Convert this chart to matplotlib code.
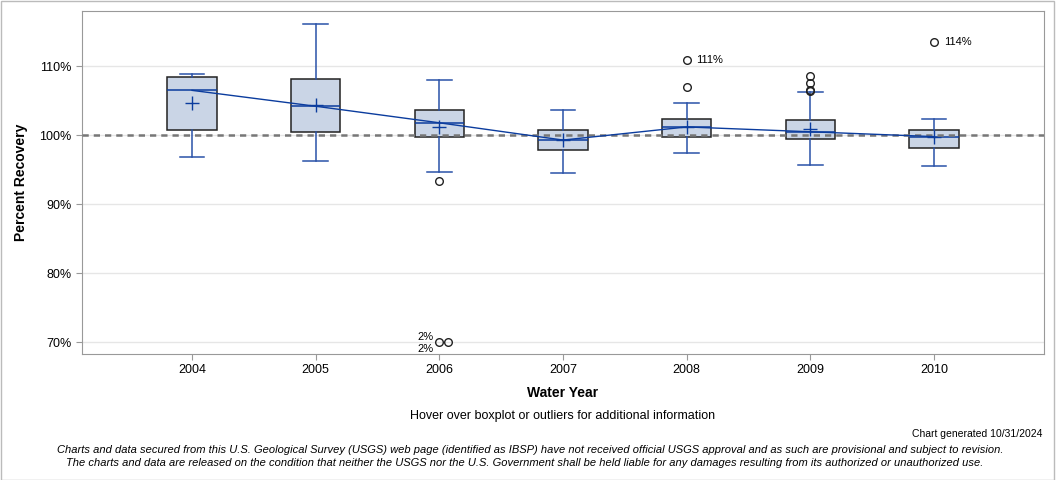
import numpy as np
import matplotlib.pyplot as plt
import matplotlib as mpl

mpl.rcParams['font.family'] = ['Liberation Sans', 'DejaVu Sans']

# values (percent recovery)
years = [2004, 2005, 2006, 2007, 2008, 2009, 2010]
q1 = [100.7, 100.4, 99.7, 97.9, 99.8, 99.5, 98.2]
q3 = [108.5, 108.2, 103.6, 100.8, 102.4, 102.2, 100.7]
med = [106.5, 104.2, 101.8, 99.3, 101.2, 100.5, 99.8]
mean = [104.6, 104.4, 101.2, 99.3, 101.2, 100.9, 99.7]
wlo = [96.8, 96.3, 94.7, 94.5, 97.4, 95.7, 95.5]
whi = [108.8, 116.1, 108.0, 103.7, 104.6, 106.2, 102.3]
fliers = [[], [], [93.4, 2.0, 2.0], [], [107.0, 110.9], [108.6, 107.6, 106.6, 106.4], [113.5]]
# outliers with a text label next to them
labelled = {(4, 110.9): '111%', (6, 113.5): '114%'}
ymin, ymax = 68.3, 118.0
floor = 70.0   # off-scale outliers are drawn on this line

box_face = '#CAD5E6'
blue = '#2A52A8'
dark_blue = '#0B3C9E'

fig = plt.figure(figsize=(10.56, 4.8), dpi=100)
ax = fig.add_axes([82/1056, 1-354/480, (1044-82)/1056, (354-11)/480])

stats = []
for i in range(len(years)):
    stats.append(dict(med=med[i], q1=q1[i], q3=q3[i], whislo=wlo[i], whishi=whi[i],
                      mean=mean[i], fliers=[]))

ax.bxp(stats, positions=years, widths=0.4, patch_artist=True, showmeans=True,
       showfliers=False, capwidths=0.2,
       boxprops=dict(facecolor=box_face, edgecolor='#222222', linewidth=1.1),
       whiskerprops=dict(color=blue, linewidth=1.1),
       capprops=dict(color=blue, linewidth=1.1),
       medianprops=dict(color=dark_blue, linewidth=1.1),
       meanprops=dict(marker='+', markeredgecolor=dark_blue, markersize=10, markeredgewidth=1.0))

ax.plot(years, med, color=dark_blue, lw=1.0, zorder=4)

for i, yr in enumerate(years):
    low = [v for v in fliers[i] if v < floor]
    high = [v for v in fliers[i] if v >= floor]
    if high:
        ax.plot([yr]*len(high), high, 'o', mfc='none', mec='#222222', ms=5.5, mew=1.0, zorder=5)
    for v in high:
        if (i, v) in labelled:
            ax.annotate(labelled[(i, v)], (yr, v), xytext=(7, 0), textcoords='offset points',
                        fontsize=8, va='center', ha='left')
    for k, v in enumerate(low):
        ax.plot(yr + k*0.07, floor, 'o', mfc='none', mec='#222222', ms=5.5, mew=1.0,
                zorder=5, clip_on=False)
        ax.annotate(f'{v:.0f}%', (yr, floor), xytext=(-4, 3.5 - k*8.5), textcoords='offset points',
                    fontsize=8, va='center', ha='right')

ax.axhline(100, color='#777777', lw=1.8, ls=(0, (2.5, 2)), zorder=3)

ax.set_xlim(2003.11, 2010.89)
ax.set_ylim(ymin, ymax)
ax.set_xticks(years)
ax.set_xticklabels([str(y) for y in years], fontsize=9)
yt = [70, 80, 90, 100, 110]
ax.set_yticks(yt)
ax.set_yticklabels([f'{v}%' for v in yt], fontsize=9)
ax.grid(axis='y', color='#E6E6E6', lw=1.0)
ax.set_axisbelow(True)
for s in ax.spines.values():
    s.set_color('#999999')
ax.tick_params(color='#999999', length=4)

ax.set_xlabel('Water Year', fontsize=10, fontweight='bold', labelpad=7)
ax.set_ylabel('Percent Recovery', fontsize=10, fontweight='bold', labelpad=8)

fig.text(563/1056, 1-416/480, 'Hover over boxplot or outliers for additional information',
         ha='center', va='center', fontsize=9)
fig.text(1042/1056, 1-434/480, 'Chart generated 10/31/2024', ha='right', va='center', fontsize=7.5)
fig.text(530/1056, 1-450/480,
         'Charts and data secured from this U.S. Geological Survey (USGS) web page (identified as IBSP) have not '
         'received official USGS approval and as such are provisional and subject to revision.',
         ha='center', va='center', fontsize=8, style='italic')
fig.text(525/1056, 1-463/480,
         'The charts and data are released on the condition that neither the USGS nor the U.S. Government shall '
         'be held liable for any damages resulting from its authorized or unauthorized use.',
         ha='center', va='center', fontsize=8, style='italic')

fig.patches.append(mpl.patches.Rectangle((0.0005, 0.001), 0.998, 0.997, transform=fig.transFigure,
                                         fill=False, edgecolor='#BBBBBB', lw=1.0))

fig.savefig('out.png', dpi=100)
